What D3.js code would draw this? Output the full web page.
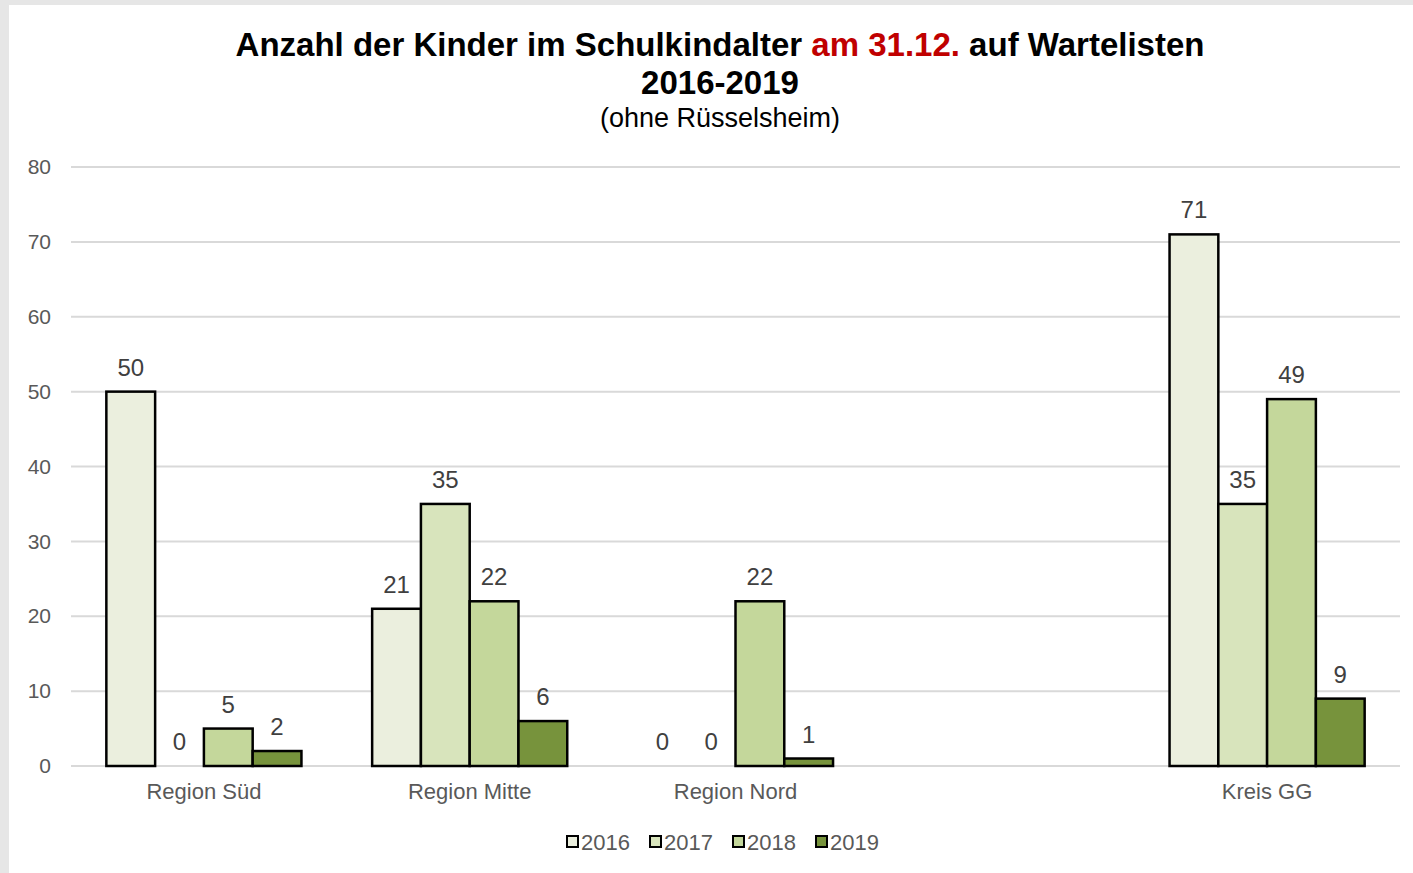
<!DOCTYPE html>
<html>
<head>
<meta charset="utf-8">
<script src="https://cdn.jsdelivr.net/npm/d3@7"></script>
<style>
  body { margin: 0; background: #e6e6e6; }
  svg { display: block; font-family: "Liberation Sans", Arial, sans-serif; }
</style>
</head>
<body>
<svg id="chart"></svg>
<script>
var categories = ["Region Süd", "Region Mitte", "Region Nord", "", "Kreis GG"];
var years = ["2016", "2017", "2018", "2019"];
var values2016 = [50, 21, 0, null, 71];
var values2017 = [0, 35, 0, null, 35];
var values2018 = [5, 22, 22, null, 49];
var values2019 = [2, 6, 1, null, 9];
var yTicks = [0, 10, 20, 30, 40, 50, 60, 70, 80];
var colors = ["#ebefde", "#d8e4bc", "#c4d79b", "#77933c"];

var series = [values2016, values2017, values2018, values2019];

var W = 1413, H = 873;
var margin = {top: 167, right: 13, bottom: 107, left: 71},
    width = W - margin.left - margin.right,
    height = H - margin.top - margin.bottom;

var svg = d3.select("#chart").attr("width", W).attr("height", H);

// frame
svg.append("rect").attr("x", 0).attr("y", 0).attr("width", W).attr("height", H).style("fill", "#e6e6e6");
svg.append("rect").attr("x", 9).attr("y", 5).attr("width", W).attr("height", H).style("fill", "#fff");

// title
var title = svg.append("text")
    .attr("x", 720).attr("y", 56)
    .style("text-anchor", "middle")
    .style("font-size", "33px")
    .style("font-weight", "bold")
    .style("fill", "#000");
title.append("tspan").text("Anzahl der Kinder im Schulkindalter ");
title.append("tspan").style("fill", "#c00000").text("am 31.12.");
title.append("tspan").text(" auf Wartelisten");

svg.append("text")
    .attr("x", 720).attr("y", 94)
    .style("text-anchor", "middle")
    .style("font-size", "33px")
    .style("font-weight", "bold")
    .text("2016-2019");

svg.append("text")
    .attr("x", 720).attr("y", 127)
    .style("text-anchor", "middle")
    .style("font-size", "27px")
    .style("fill", "#000")
    .text("(ohne Rüsselsheim)");

var g = svg.append("g").attr("transform", "translate(" + margin.left + "," + margin.top + ")");

var x0 = d3.scaleBand().domain(d3.range(categories.length)).range([0, width])
    .paddingInner(0.266).paddingOuter(0.133);
var x1 = d3.scaleBand().domain(d3.range(years.length)).range([0, x0.bandwidth()]);
var y = d3.scaleLinear().domain([0, 80]).range([height, 0]);

// gridlines
g.selectAll(".grid").data(yTicks).enter().append("line")
    .attr("x1", 0).attr("x2", width)
    .attr("y1", d => y(d)).attr("y2", d => y(d))
    .style("stroke", "#d9d9d9").style("stroke-width", 2);

// y axis
var yAxis = d3.axisLeft(y).tickValues(yTicks).tickSize(0).tickPadding(20);
var yg = g.append("g").call(yAxis);
yg.select(".domain").remove();
yg.selectAll("text").style("font-size", "21px").style("fill", "#595959")
    .style("font-family", "Liberation Sans, Arial, sans-serif");

// x axis labels
var xAxis = d3.axisBottom(x0).tickFormat(i => categories[i]).tickSize(0).tickPadding(17);
var xg = g.append("g").attr("transform", "translate(0," + height + ")").call(xAxis);
xg.select(".domain").remove();
xg.selectAll("text").style("font-size", "22px").style("fill", "#595959")
    .style("font-family", "Liberation Sans, Arial, sans-serif");

// bars
var slice = g.selectAll(".slice")
    .data(categories.map((c, i) => ({i: i, values: series.map((s, j) => ({j: j, v: s[i]}))})))
    .enter().append("g")
    .attr("transform", d => "translate(" + x0(d.i) + ",0)");

slice.selectAll("rect")
    .data(d => d.values.filter(v => v.v !== null && v.v > 0))
    .enter().append("rect")
    .attr("x", d => x1(d.j))
    .attr("width", x1.bandwidth())
    .attr("y", d => y(d.v))
    .attr("height", d => height - y(d.v))
    .style("fill", d => colors[d.j])
    .style("stroke", "#000")
    .style("stroke-width", 2.5);

slice.selectAll(".lbl")
    .data(d => d.values.filter(v => v.v !== null))
    .enter().append("text")
    .attr("x", d => x1(d.j) + x1.bandwidth() / 2)
    .attr("y", d => y(d.v) - 16)
    .style("text-anchor", "middle")
    .style("font-size", "24px")
    .style("fill", "#404040")
    .text(d => d.v);

// legend
var legend = svg.append("g").attr("transform", "translate(567,842)");
var lg = legend.selectAll("g").data(years).enter().append("g")
    .attr("transform", (d, i) => "translate(" + (i * 83) + ",0)");
lg.append("rect")
    .attr("x", 0).attr("y", -6).attr("width", 11).attr("height", 11)
    .style("fill", (d, i) => colors[i])
    .style("stroke", "#000").style("stroke-width", 2);
lg.append("text")
    .attr("x", 14).attr("y", 0).attr("dy", ".35em")
    .style("font-size", "22px").style("fill", "#595959")
    .text(d => d);
</script>
</body>
</html>
